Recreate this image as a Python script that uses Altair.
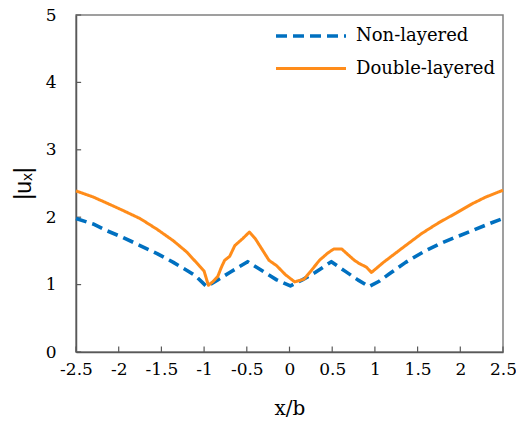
import altair as alt
import pandas as pd

# Non-layered series
x_non = [-2.5, -2.3, -2.14, -1.95, -1.75, -1.55, -1.36, -1.2, -1.1, -0.97, -0.84, -0.7, -0.49,
         -0.3, -0.15, 0.01, 0.15, 0.3, 0.49, 0.65, 0.8, 0.93, 1.05, 1.17, 1.36, 1.56, 1.75,
         1.94, 2.14, 2.33, 2.5]
y_non = [1.98, 1.90, 1.80, 1.70, 1.58, 1.46, 1.33, 1.21, 1.13, 0.97, 1.07, 1.18, 1.34,
         1.19, 1.07, 0.98, 1.07, 1.18, 1.34, 1.20, 1.07, 0.97, 1.05, 1.16, 1.33, 1.48, 1.60,
         1.70, 1.80, 1.90, 1.98]

# Double-layered series
x_dbl = [-2.5, -2.3, -2.14, -1.95, -1.75, -1.55, -1.36, -1.2, -1.05, -1.0, -0.95, -0.9, -0.84,
         -0.8, -0.76, -0.7, -0.64, -0.55, -0.47, -0.4, -0.3, -0.24, -0.15, -0.05, 0.06, 0.17,
         0.25, 0.35, 0.45, 0.52, 0.61, 0.68, 0.76, 0.82, 0.9, 0.96, 1.1, 1.36, 1.55, 1.75,
         1.95, 2.14, 2.3, 2.5]
y_dbl = [2.39, 2.30, 2.21, 2.10, 1.98, 1.82, 1.65, 1.48, 1.27, 1.20, 0.99, 1.04, 1.12,
         1.25, 1.36, 1.42, 1.58, 1.68, 1.78, 1.68, 1.48, 1.36, 1.28, 1.15, 1.04, 1.08,
         1.20, 1.36, 1.47, 1.53, 1.53, 1.45, 1.36, 1.31, 1.26, 1.18, 1.33, 1.58, 1.76, 1.92,
         2.06, 2.20, 2.30, 2.40]

series_names = ["Non-layered", "Double-layered"]
series_colors = ["#0070C0", "#FF8C1A"]
x_ticks = [-2.5, -2, -1.5, -1, -0.5, 0, 0.5, 1, 1.5, 2, 2.5]
y_ticks = [0, 1, 2, 3, 4, 5]

df = pd.concat([
    pd.DataFrame({"x": x_non, "y": y_non, "series": series_names[0], "order": range(len(x_non))}),
    pd.DataFrame({"x": x_dbl, "y": y_dbl, "series": series_names[1], "order": range(len(x_dbl))}),
])

xscale = alt.Scale(domain=[-2.5, 2.5], nice=False, zero=False)
yscale = alt.Scale(domain=[0, 5], nice=False)

serif = "DejaVu Serif"

# custom horizontal-line symbol: unit path scaled by sqrt(size)/2 -> 70 px long with size 400
legend_opts = dict(title=None, orient="none", legendX=223, legendY=9,
                   symbolType="M-3.5,0H3.5", symbolSize=400, symbolStrokeWidth=3.6,
                   symbolFillColor="transparent",
                   labelFont=serif, labelFontSize=18, labelColor="black",
                   labelOffset=33, rowPadding=12)

lines = alt.Chart(df).mark_line(strokeCap="butt", strokeJoin="round").encode(
    x=alt.X("x:Q", scale=xscale,
            axis=alt.Axis(values=x_ticks, title="x/b", labelExpr="'' + datum.value",
                          labelFont=serif, labelFontSize=17, labelColor="black",
                          labelPadding=9, ticks=False, grid=False,
                          titleFont=serif, titleFontSize=20, titleFontWeight="normal",
                          titleColor="black", titleY=56, titleBaseline="middle",
                          domainColor="#595959", domainWidth=1.5, labelFlush=False)),
    y=alt.Y("y:Q", scale=yscale,
            axis=alt.Axis(values=y_ticks, title="|uₓ|", labelExpr="'' + datum.value",
                          labelFont=serif, labelFontSize=17,
                          labelColor="black", labelPadding=20, ticks=False, grid=False,
                          titleFont="Liberation Sans", titleFontSize=23,
                          titleFontWeight="normal", titleColor="black",
                          titleX=-53, titleY=168, titleAngle=270, titleBaseline="middle",
                          titleAlign="center",
                          domainColor="#595959", domainWidth=1.5, labelFlush=False)),
    color=alt.Color("series:N", scale=alt.Scale(domain=series_names, range=series_colors),
                    legend=alt.Legend(**legend_opts)),
    strokeDash=alt.StrokeDash("series:N",
                              scale=alt.Scale(domain=series_names, range=[[11, 6], [1, 0]]),
                              legend=alt.Legend(**legend_opts)),
    strokeWidth=alt.StrokeWidth("series:N",
                                scale=alt.Scale(domain=series_names, range=[3.6, 3]),
                                legend=None),
    order="order:Q",
)

xt = pd.DataFrame({"x": x_ticks, "y0": 0.0, "y1": 0.08})
yt = pd.DataFrame({"y": y_ticks, "x0": -2.5, "x1": -2.44})

xtick_marks = alt.Chart(xt).mark_rule(color="#595959", strokeWidth=1.2).encode(
    x=alt.X("x:Q", scale=xscale), y=alt.Y("y0:Q", scale=yscale), y2="y1:Q")
ytick_marks = alt.Chart(yt).mark_rule(color="#595959", strokeWidth=1.2).encode(
    y=alt.Y("y:Q", scale=yscale), x=alt.X("x0:Q", scale=xscale), x2="x1:Q")

chart = alt.layer(xtick_marks, ytick_marks, lines).properties(
    width=427, height=337,
    autosize=alt.AutoSizeParams(type="none"),
    padding={"left": 68, "top": 7, "right": 13, "bottom": 70},
    background="white",
).configure_view(stroke="#808080", strokeWidth=1.5)

chart.save("out.html", embed_options={"renderer": "svg", "actions": False})
